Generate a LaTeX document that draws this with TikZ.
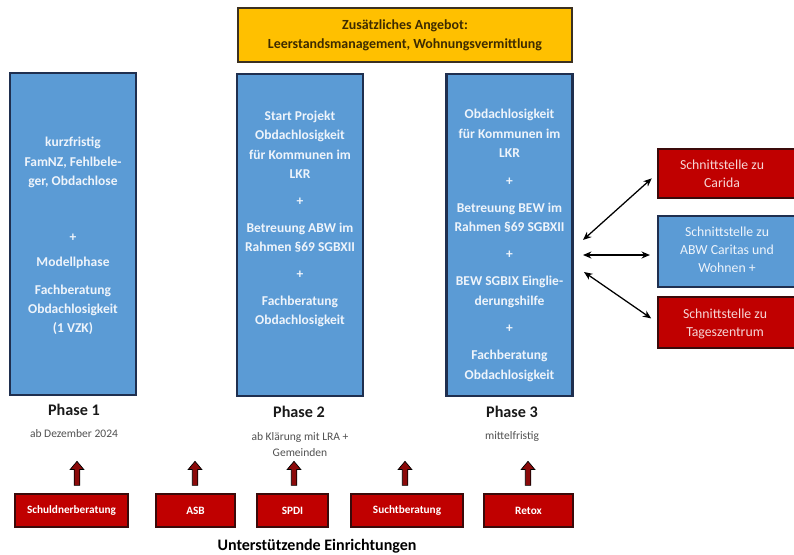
\documentclass[tikz,border=0pt]{standalone}
\usepackage{fontspec}
\setmainfont{Carlito}
\usepackage{xcolor}
\usepackage{tikz}
\usetikzlibrary{arrows.meta,shapes.arrows}

\definecolor{phaseblue}{HTML}{5B9BD5}
\definecolor{navyline}{HTML}{1F2F4F}
\definecolor{offeryellow}{HTML}{FFC000}
\definecolor{offerline}{HTML}{3B3020}
\definecolor{offertext}{HTML}{3D2B00}
\definecolor{linkred}{HTML}{C00000}
\definecolor{redline}{HTML}{3A0A0A}
\definecolor{arrowred}{HTML}{8B0A0A}
\definecolor{subgrey}{HTML}{505050}
\definecolor{boxtext}{HTML}{EEF4FB}
\definecolor{pinktext}{HTML}{F6D6D6}

\begin{document}
\begin{tikzpicture}[x=0.025cm,y=-0.025cm,
	phasebox/.style={draw=navyline,line width=1.5pt,fill=phaseblue,minimum width=3.15cm,minimum height=8.05cm,inner sep=0pt},
	phasetext/.style={align=center,text=boxtext,font=\fontsize{9.6}{13.8}\selectfont\bfseries},
	phaselabel/.style={font=\fontsize{11.5}{13}\selectfont\bfseries,text=black!90},
	phasesub/.style={align=center,text=subgrey,font=\fontsize{8.2}{12}\selectfont},
	linkbox/.style={draw=redline,line width=1.2pt,fill=linkred,minimum width=4.55cm,inner sep=0pt},
	linktext/.style={align=center,text=pinktext,font=\fontsize{9.8}{12.8}\selectfont},
	helpbox/.style={draw=redline,line width=1.2pt,fill=linkred,minimum height=0.825cm,text=white,font=\fontsize{8}{9}\selectfont\bfseries},
	uparrow/.style={shape=single arrow,shape border rotate=90,draw=black,line width=0.5pt,fill=arrowred,minimum height=0.6cm,inner sep=0.06cm,single arrow head extend=0.1cm,single arrow tip angle=80},
	link/.style={line width=0.9pt,{Stealth[length=6pt,width=5pt]}-{Stealth[length=6pt,width=5pt]},shorten >=0.18cm}
	]
	\useasboundingbox (0,0) rectangle (794,554);
	\clip (0,0) rectangle (794,554);

	% zusaetzliches Angebot
	\node [draw=offerline,line width=1.5pt,fill=offeryellow,minimum width=8.35cm,minimum height=1.35cm,align=center,text=offertext,font=\fontsize{9.9}{13.5}\selectfont\bfseries] (offer) at (405,35) {Zusätzliches Angebot:\\Leerstandsmanagement, Wohnungsvermittlung};

	% Phasen
	\node [phasebox] (box1) at (73,234) {};
	\node [phasetext] (text1) at (73,236) {kurzfristig\\FamNZ, Fehlbele-\\ger, Obdachlose\\[25.9pt]+\\[3.9pt]Modellphase\\[6pt]Fachberatung\\Obdachlosigkeit\\(1 VZK)};
	\node [phasebox] (box2) at (300,235) {};
	\node [phasetext] (text2) at (300,219) {Start Projekt\\Obdachlosigkeit\\für Kommunen im\\LKR\\[5.3pt]+\\[5.3pt]Betreuung ABW im\\Rahmen §69 SGBXII\\[5.3pt]+\\[5.3pt]Fachberatung\\Obdachlosigkeit};
	\node [phasebox] (box3) at (509.5,235) {};
	\node [phasetext] (text3) at (509.5,245.5) {Obdachlosigkeit\\für Kommunen im\\LKR\\[5.7pt]+\\[5.7pt]Betreuung BEW im\\Rahmen §69 SGBXII\\[5.3pt]+\\[5.3pt]BEW SGBIX Einglie-\\derungshilfe\\[5.7pt]+\\[5.7pt]Fachberatung\\Obdachlosigkeit};

	\node [phaselabel] (label1) at (74,410) {Phase 1};
	\node [phasesub] (sub1) at (74,434) {ab Dezember 2024};
	\node [phaselabel] (label2) at (299,412) {Phase 2};
	\node [phasesub] (sub2) at (300,444.5) {ab Klärung mit LRA +\\Gemeinden};
	\node [phaselabel] (label3) at (512,412) {Phase 3};
	\node [phasesub] (sub3) at (512,436) {mittelfristig};

	% Schnittstellen
	\node [linkbox,minimum height=1.225cm] (carida) at (749,173.5) {};
	\node [linktext] (caridatext) at (722,174) {Schnittstelle zu\\Carida};
	\node [linkbox,draw=navyline,fill=phaseblue,minimum height=1.775cm] (abw) at (749,251.5) {};
	\node [linktext,text=boxtext] (abwtext) at (727,249.5) {Schnittstelle zu\\ABW Caritas und\\Wohnen +};
	\node [linkbox,minimum height=1.275cm] (tages) at (749,322.5) {};
	\node [linktext] (tagestext) at (725,324) {Schnittstelle zu\\Tageszentrum};

	\coordinate (hubA) at (583,240);
	\coordinate (hubB) at (583,255);
	\coordinate (hubC) at (584,272);
	\draw [link] (hubA) -- (carida.west);
	\draw [link] (hubB) -- (abw.west |- hubB);
	\draw [link] (hubC) -- (tages.west);

	% unterstuetzende Einrichtungen
	\node [helpbox,minimum width=2.825cm] (schuld) at (71.5,510.5) {Schuldnerberatung};
	\node [helpbox,minimum width=1.975cm] (asb) at (195.5,510.5) {ASB};
	\node [helpbox,minimum width=1.775cm] (spdi) at (292.5,510.5) {SPDI};
	\node [helpbox,minimum width=2.8cm] (sucht) at (407,510.5) {Suchtberatung};
	\node [helpbox,minimum width=2.225cm] (retox) at (528.5,510.5) {Retox};

	\node [uparrow] (up1) at (77,475) {};
	\node [uparrow] (up2) at (195,475) {};
	\node [uparrow] (up3) at (294,475) {};
	\node [uparrow] (up4) at (405,475) {};
	\node [uparrow] (up5) at (528,475) {};

	\node [font=\fontsize{11.4}{13}\selectfont\bfseries] (support) at (317,546) {Unterstützende Einrichtungen};
\end{tikzpicture}
\end{document}
